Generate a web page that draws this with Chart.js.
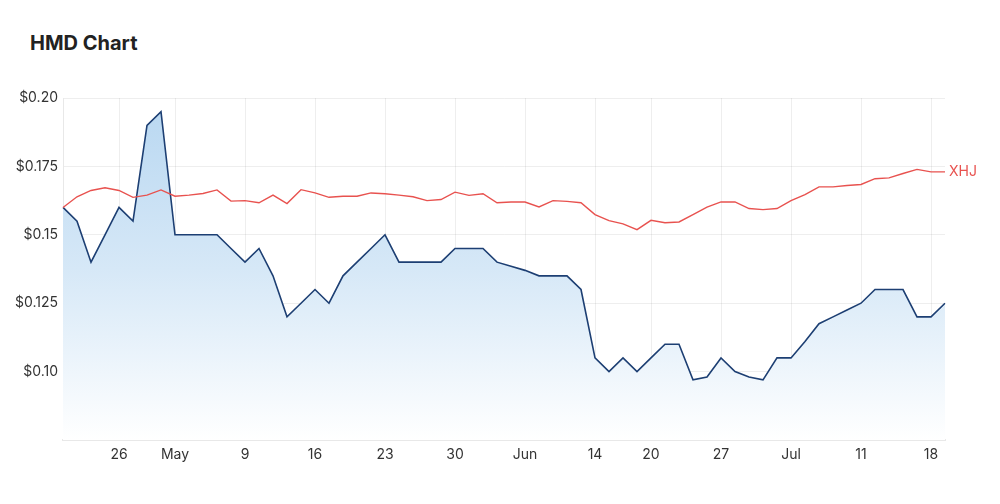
<!DOCTYPE html>
<html>
<head>
<meta charset="utf-8">
<script src="https://cdn.jsdelivr.net/npm/chart.js@4.4.1/dist/chart.umd.min.js"></script>
<style>
  html, body { margin: 0; padding: 0; background: #ffffff; }
  #wrap { position: relative; width: 1000px; height: 504px; overflow: hidden; }
  #title { position: absolute; left: 30px; top: 30px; font-family: Inter, "Noto Sans", sans-serif; font-weight: 700; font-size: 20px; color: #222; line-height: 26px; }
  canvas { position: absolute; left: 0; top: 0; }
</style>
</head>
<body>
<div id="wrap">
  <div id="title">HMD Chart</div>
  <canvas id="c" width="1000" height="504"></canvas>
</div>
<script>
const dates = [
  '2022-04-19','2022-04-20','2022-04-21','2022-04-22','2022-04-26','2022-04-27','2022-04-28','2022-04-29',
  '2022-05-02','2022-05-03','2022-05-04','2022-05-05','2022-05-06','2022-05-09','2022-05-10','2022-05-11','2022-05-12','2022-05-13',
  '2022-05-16','2022-05-17','2022-05-18','2022-05-19','2022-05-20','2022-05-23','2022-05-24','2022-05-25','2022-05-26','2022-05-27',
  '2022-05-30','2022-05-31','2022-06-01','2022-06-02','2022-06-03','2022-06-06','2022-06-07','2022-06-08','2022-06-09','2022-06-10',
  '2022-06-14','2022-06-15','2022-06-16','2022-06-17','2022-06-20','2022-06-21','2022-06-22','2022-06-23','2022-06-24',
  '2022-06-27','2022-06-28','2022-06-29','2022-06-30','2022-07-01','2022-07-04','2022-07-05','2022-07-06','2022-07-07','2022-07-08',
  '2022-07-11','2022-07-12','2022-07-13','2022-07-14','2022-07-15','2022-07-18','2022-07-19'
];

const hmdValues = [
  0.16, 0.155, 0.14, 0.15, 0.16, 0.155, 0.19, 0.195,
  0.15, 0.15, 0.15, 0.15, 0.145, 0.14, 0.145, 0.135, 0.12, 0.125,
  0.13, 0.125, 0.135, 0.14, 0.145, 0.15, 0.14, 0.14, 0.14, 0.14,
  0.145, 0.145, 0.145, 0.14, 0.1385, 0.137, 0.135, 0.135, 0.135, 0.13,
  0.105, 0.10, 0.105, 0.10, 0.105, 0.11, 0.11, 0.097, 0.098,
  0.105, 0.10, 0.098, 0.097, 0.105, 0.105, 0.111, 0.1175, 0.12, 0.1225,
  0.125, 0.13, 0.13, 0.13, 0.12, 0.12, 0.125
];

const xhjValues = [
  0.16, 0.1639, 0.1662, 0.1672, 0.1662, 0.1637, 0.1645, 0.1664,
  0.1641, 0.1645, 0.1651, 0.1664, 0.1623, 0.1625, 0.1617, 0.1645, 0.1614, 0.1665,
  0.1653, 0.1637, 0.1641, 0.1641, 0.1653, 0.165, 0.1645, 0.1639, 0.1625, 0.1629,
  0.1656, 0.1644, 0.165, 0.1617, 0.162, 0.162, 0.1602, 0.1625, 0.1622, 0.1617,
  0.1574, 0.1552, 0.154, 0.1519, 0.1553, 0.1544, 0.1547, 0.1574, 0.1601,
  0.162, 0.162, 0.1596, 0.1592, 0.1596, 0.1625, 0.1647, 0.1675, 0.1675, 0.168,
  0.1684, 0.1705, 0.1708, 0.1724, 0.1739, 0.173, 0.173
];

const xTickDates = ['2022-04-26','2022-05-02','2022-05-09','2022-05-16','2022-05-23','2022-05-30','2022-06-06','2022-06-14','2022-06-20','2022-06-27','2022-07-04','2022-07-11','2022-07-18'];
const xTickText  = ['26','May','9','16','23','30','Jun','14','20','27','Jul','11','18'];

const yTickValues = [0.10, 0.125, 0.15, 0.175, 0.20];
const yTickText   = ['$0.10', '$0.125', '$0.15', '$0.175', '$0.20'];

const seriesNames = ['HMD', 'XHJ'];

Chart.defaults.font.family = 'Inter, "Noto Sans", sans-serif';
Chart.defaults.color = '#333';

const endLabel = {
  id: 'endLabel',
  afterDatasetsDraw(chart) {
    const meta = chart.getDatasetMeta(1);
    const pt = meta.data[meta.data.length - 1];
    const ctx = chart.ctx;
    ctx.save();
    ctx.font = '14px Inter, "Noto Sans", sans-serif';
    ctx.fillStyle = '#e8524f';
    ctx.textBaseline = 'middle';
    ctx.textAlign = 'left';
    ctx.fillText(seriesNames[1], pt.x + 4, pt.y);
    ctx.restore();
  }
};

const ctx = document.getElementById('c').getContext('2d');
new Chart(ctx, {
  type: 'line',
  data: {
    labels: dates,
    datasets: [
      {
        label: seriesNames[0],
        data: hmdValues,
        borderColor: '#1d3f73',
        borderWidth: 1.6,
        pointRadius: 0,
        tension: 0,
        fill: 'start',
        backgroundColor: (c) => {
          const area = c.chart.chartArea;
          if (!area) return 'rgba(190,218,242,0.8)';
          const g = c.chart.ctx.createLinearGradient(0, area.top, 0, area.bottom);
          g.addColorStop(0, 'rgba(184,215,241,1)');
          g.addColorStop(0.5, 'rgba(214,232,247,1)');
          g.addColorStop(1, 'rgba(255,255,255,1)');
          return g;
        },
        order: 2
      },
      {
        label: seriesNames[1],
        data: xhjValues,
        borderColor: '#e8524f',
        borderWidth: 1.4,
        pointRadius: 0,
        tension: 0,
        fill: false,
        order: 1
      }
    ]
  },
  options: {
    responsive: false,
    animation: false,
    devicePixelRatio: 1,
    layout: { padding: { top: 98, right: 55, bottom: 0, left: 0 } },
    plugins: {
      legend: { display: false },
      tooltip: { enabled: false },
      title: { display: false }
    },
    scales: {
      x: {
        type: 'category',
        offset: false,
        grid: { color: 'rgba(0,0,0,0.065)', drawTicks: false },
        border: { color: '#e8e8e8', width: 2 },
        afterBuildTicks: (scale) => {
          scale.ticks = scale.ticks.filter(t => xTickDates.includes(dates[t.value]));
        },
        afterFit: (scale) => { scale.height = 64; },
        ticks: {
          autoSkip: false,
          maxRotation: 0,
          padding: 6,
          font: { size: 14 },
          color: '#333',
          callback: (value) => xTickText[xTickDates.indexOf(dates[value])]
        }
      },
      y: {
        min: 0.075,
        max: 0.20,
        grid: { color: 'rgba(0,0,0,0.065)', drawTicks: false },
        border: { color: '#e8e8e8', width: 1 },
        afterBuildTicks: (scale) => {
          scale.ticks = yTickValues.map(v => ({ value: v }));
        },
        afterFit: (scale) => { scale.width = 63; },
        ticks: {
          padding: 5,
          font: { size: 14 },
          color: '#333',
          callback: (value) => {
            const i = yTickValues.findIndex(v => Math.abs(v - value) < 1e-9);
            return i >= 0 ? yTickText[i] : '';
          }
        }
      }
    }
  },
  plugins: [endLabel]
});
</script>
</body>
</html>
